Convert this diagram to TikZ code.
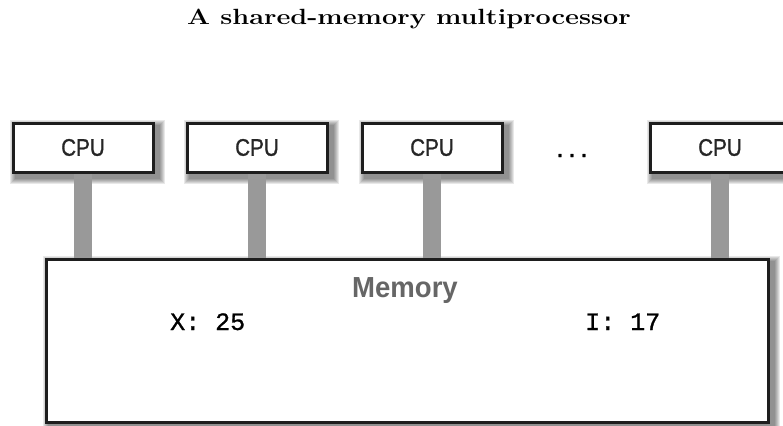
\documentclass[tikz,border=0pt]{standalone}
\usepackage{fontspec}
\usetikzlibrary{backgrounds,calc}
\newfontfamily\cpufont[FakeBold=1.2]{Liberation Sans}
\newfontfamily\memfont{Liberation Sans}
\newfontfamily\monofont[FakeBold=1]{Liberation Mono}
\definecolor{bargray}{HTML}{999999}
\definecolor{memgray}{HTML}{666666}
\definecolor{boxline}{HTML}{1E1E1E}
\tikzset{
  cpubox/.style={draw=boxline, line width=3pt, fill=white, minimum width=140pt, minimum height=49pt, inner sep=0pt,
    font=\cpufont\fontsize{24}{24}\selectfont, text=black!85},
  membox/.style={draw=boxline, line width=3pt, fill=white, minimum width=722pt, minimum height=163pt, inner sep=0pt},
  bus/.style={draw=bargray, line width=18pt},
  shadowlayer/.style={fill=black, opacity=0.09},
  monotext/.style={font=\monofont\fontsize{25}{25}\selectfont, inner sep=0pt, anchor=base west},
}
\begin{document}
\begin{tikzpicture}[x=1pt,y=-1pt]
\useasboundingbox (0,0) rectangle (783,425);
\clip (0,0) rectangle (783,425);
\node[inner sep=0pt, anchor=base] (title) at (409,25)
  {\scalebox{1.23}[1]{\fontsize{22}{24}\selectfont\bfseries A shared-memory multiprocessor}};
\node[membox] (mem) at (407,340.5) {};
\node[cpubox] (c1) at (83,147.5) {\scalebox{0.86}[1]{CPU}};
\node[cpubox] (c2) at (257,147.5) {\scalebox{0.86}[1]{CPU}};
\node[cpubox] (c3) at (432,147.5) {\scalebox{0.86}[1]{CPU}};
\node[cpubox] (c4) at (720,147.5) {\scalebox{0.86}[1]{CPU}};
\begin{scope}[on background layer]
\foreach \n in {c1,c2,c3,c4,mem} {
  \foreach \r in {1,...,6} {
    \fill[shadowlayer] ($(\n.north west)+(4-\r,4-\r)$) rectangle ($(\n.south east)+(4+\r,4+\r)$);
  }
}
\foreach \c in {c1,c2,c3,c4} {
  \draw[bus] (\c.south) -- (\c.south |- mem.north);
}
\end{scope}
\node[inner sep=0pt, anchor=base, font=\cpufont\fontsize{27}{27}\selectfont] (dots) at (572,157) {.\,.\,.};
\node[inner sep=0pt, anchor=base, text=memgray, font=\memfont\bfseries\fontsize{29}{29}\selectfont] (memlabel) at (405,297) {\scalebox{0.95}[1]{Memory}};
\node[monotext] (x) at (170,330) {X: 25};
\node[monotext] (i) at (585,330) {I: 17};
\end{tikzpicture}
\end{document}
